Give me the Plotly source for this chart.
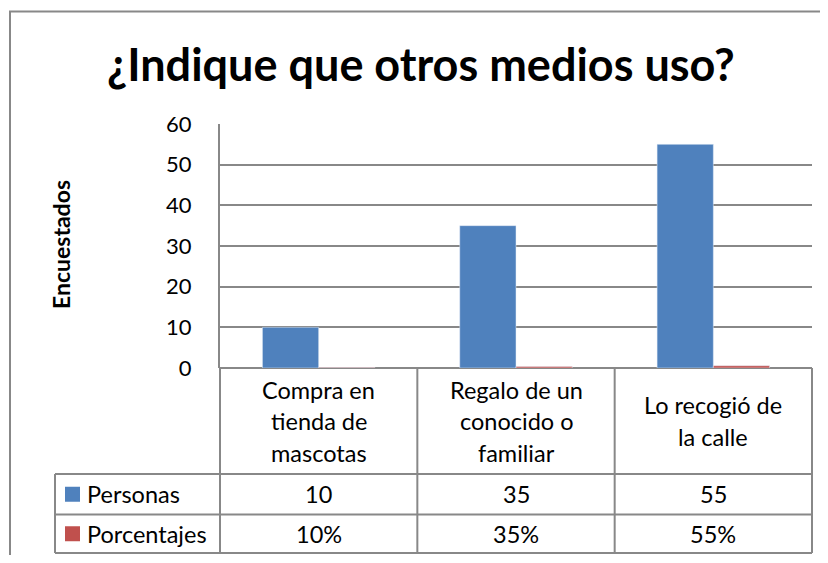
import plotly.graph_objects as go

# datos de la encuesta
categorias = ["Compra en<br>tienda de<br>mascotas", "Regalo de un<br>conocido o<br>familiar", "Lo recogió de<br>la calle"]
personas = [10, 35, 55]
porcentajes = [0.10, 0.35, 0.55]
etiquetas_pct = ["10%", "35%", "55%"]
series = ["Personas", "Porcentajes"]
colores = ["#4F81BD", "#C0504D"]

# la página deja 8px de margen: la figura se dibuja algo más pequeña
OFF = 8
W, H = 812, 547
GRIS = "#888888"
FUENTE = "Lato"


def px_x(v):
    return (v - OFF) / W


def px_y(v):
    return 1 - (v - OFF) / H


# caja del gráfico (en píxeles de la imagen)
X0, X1 = 220, 812
Y_TOP, Y_AXIS = 124, 368
Y_ROW1, Y_ROW2, Y_BOT = 474, 514.5, 553
X_TABLA = 55
cortes = [X0 + (X1 - X0) * i / 3 for i in range(4)]

fig = go.Figure()
fig.add_trace(go.Bar(x=[0, 1, 2], y=personas, name=series[0], marker_color=colores[0]))
fig.add_trace(go.Bar(x=[0, 1, 2], y=porcentajes, name=series[1], marker_color=colores[1]))

fig.update_layout(
    width=W, height=H,
    margin=dict(l=0, r=0, t=0, b=0, autoexpand=False),
    paper_bgcolor="white", plot_bgcolor="white",
    showlegend=False,
    barmode="group", bargap=0.43, bargroupgap=0,
    font=dict(family=FUENTE, color="black"),
    xaxis=dict(domain=[px_x(X0), px_x(X1)], range=[-0.5, 2.5], showticklabels=False,
               showgrid=False, zeroline=False, fixedrange=True, automargin=False),
    yaxis=dict(domain=[px_y(Y_AXIS), px_y(Y_TOP)], range=[0, 60], dtick=10,
               showgrid=True, gridcolor=GRIS, gridwidth=2,
               zeroline=True, zerolinecolor=GRIS, zerolinewidth=2,
               showline=True, linecolor=GRIS, linewidth=2,
               ticks="", ticklabelstandoff=22, automargin=False,
               tickfont=dict(family=FUENTE, size=22, color="black")),
)

anot = []
# título
anot.append(dict(text="<b>¿Indique que otros medios uso?</b>", xref="paper", yref="paper",
                 x=px_x(421), y=px_y(64), xanchor="center", yanchor="middle", showarrow=False,
                 font=dict(family=FUENTE, size=45, color="black")))
# título del eje
anot.append(dict(text="<b>Encuestados</b>", xref="paper", yref="paper", textangle=-90,
                 x=px_x(61), y=px_y(245), xanchor="center", yanchor="middle", showarrow=False,
                 font=dict(family=FUENTE, size=23, color="black")))

# etiquetas de categoría, línea por línea
paso = 31.5
centro = (Y_AXIS + Y_ROW1) / 2
for i, cat in enumerate(categorias):
    lineas = cat.split("<br>")
    y0 = centro - paso * (len(lineas) - 1) / 2
    for k, ln in enumerate(lineas):
        anot.append(dict(text=ln, xref="x", yref="paper", x=i, y=px_y(y0 + k * paso),
                         xanchor="center", yanchor="middle", showarrow=False,
                         font=dict(size=23.5)))

# filas de la tabla de datos
filas = [[str(v) for v in personas], etiquetas_pct]
centros_fila = [(Y_ROW1 + Y_ROW2) / 2, (Y_ROW2 + Y_BOT) / 2]
shapes = []
for r, (nombre, vals) in enumerate(zip(series, filas)):
    yc = centros_fila[r]
    for i, v in enumerate(vals):
        anot.append(dict(text=v, xref="x", yref="paper", x=i, y=px_y(yc),
                         xanchor="center", yanchor="middle", showarrow=False, font=dict(size=23.5)))
    anot.append(dict(text=nombre, xref="paper", yref="paper", x=px_x(85), y=px_y(yc),
                     xanchor="left", yanchor="middle", showarrow=False, font=dict(size=23.5)))
    shapes.append(dict(type="rect", xref="paper", yref="paper", line_width=0, fillcolor=colores[r],
                       x0=px_x(65), x1=px_x(80), y0=px_y(yc - 7.5), y1=px_y(yc + 7.5)))


def linea(xa, ya, xb, yb):
    return dict(type="line", xref="paper", yref="paper", x0=px_x(xa), y0=px_y(ya),
                x1=px_x(xb), y1=px_y(yb), line=dict(color=GRIS, width=2))


# rejilla de la tabla
shapes.append(linea(X_TABLA, Y_ROW1, X1, Y_ROW1))
shapes.append(linea(X_TABLA, Y_ROW2, X1, Y_ROW2))
shapes.append(linea(X_TABLA, Y_BOT, X1, Y_BOT))
shapes.append(linea(X_TABLA, Y_ROW1, X_TABLA, Y_BOT))
for c in cortes:
    shapes.append(linea(c, Y_AXIS, c, Y_BOT))
# marco del gráfico
shapes.append(dict(type="rect", xref="paper", yref="paper", x0=px_x(10), y0=px_y(11.5),
                   x1=1.2, y1=-0.2, line=dict(color=GRIS, width=2)))

fig.update_layout(annotations=anot, shapes=shapes)
fig.write_html("out.html")
